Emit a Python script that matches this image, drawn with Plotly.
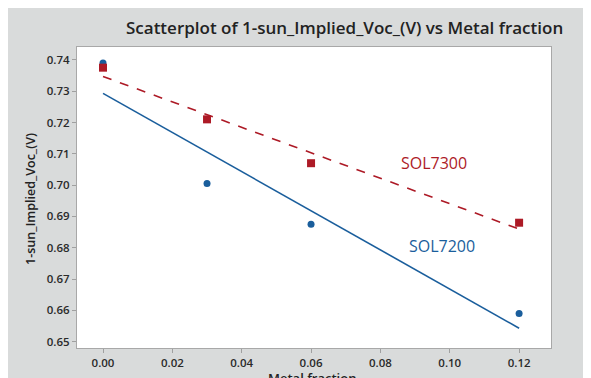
import numpy as np
import plotly.graph_objects as go

metal_fraction = [0.0, 0.03, 0.06, 0.12]
sol7200_voc = [0.739, 0.7005, 0.6875, 0.659]
sol7300_voc = [0.7375, 0.721, 0.707, 0.688]
x_ticks = [0.00, 0.02, 0.04, 0.06, 0.08, 0.10, 0.12]
y_ticks = [0.65, 0.66, 0.67, 0.68, 0.69, 0.70, 0.71, 0.72, 0.73, 0.74]

BLUE = "#1a5e9c"
RED = "#ad1a26"
GRAY_BG = "#d9dbdb"

def fit(x, y):
    m, b = np.polyfit(x, y, 1)
    xs = [min(x), max(x)]
    return xs, [m * v + b for v in xs]

fig = go.Figure()
fx, fy = fit(metal_fraction, sol7200_voc)
fig.add_trace(go.Scatter(x=fx, y=fy, mode="lines", line=dict(color=BLUE, width=1.6), showlegend=False))
fx2, fy2 = fit(metal_fraction, sol7300_voc)
fig.add_trace(go.Scatter(x=fx2, y=fy2, mode="lines", line=dict(color=RED, width=1.6, dash="dash"), showlegend=False))
fig.add_trace(go.Scatter(x=metal_fraction, y=sol7200_voc, mode="markers",
                         marker=dict(symbol="circle", size=7, color=BLUE), showlegend=False))
fig.add_trace(go.Scatter(x=metal_fraction, y=sol7300_voc, mode="markers",
                         marker=dict(symbol="square", size=8, color=RED), showlegend=False))

tickfont = dict(family="Open Sans", size=11.5, color="#2a2a2a", weight=600)
fig.update_xaxes(range=[-0.0075, 0.1292], tickvals=x_ticks, ticktext=[f"{v:.2f}" for v in x_ticks],
                 showgrid=False, zeroline=False, showline=True, linecolor="#a8a8a8", linewidth=1,
                 mirror=True, ticks="outside", ticklen=4, tickcolor="#a0a0a0", tickfont=tickfont,
                 automargin=False)
fig.update_yaxes(range=[0.648, 0.7441], tickvals=y_ticks, ticktext=[f"{v:.2f}" for v in y_ticks],
                 showgrid=False, zeroline=False, showline=True, linecolor="#a8a8a8", linewidth=1,
                 mirror=True, ticks="outside", ticklen=4, tickcolor="#a0a0a0", tickfont=tickfont,
                 automargin=False)

# page has an 8px body margin; figure coordinates = screen - 8
OFF = 8
FW, FH = 591 - OFF, 378 - OFF
L, T, W, H = 77 - OFF, 47 - OFF, 474, 301
def px(xs):
    return (xs - OFF - L) / W
def py(ys):
    return (T + H - (ys - OFF)) / H

fig.update_layout(
    width=FW, height=FH,
    margin=dict(l=L, r=FW - L - W, t=T, b=FH - T - H, autoexpand=False),
    paper_bgcolor=GRAY_BG, plot_bgcolor="white",
    annotations=[
        dict(text="Scatterplot of 1-sun_Implied_Voc_(V) vs Metal fraction", xref="paper", yref="paper",
             x=px(344.5), y=py(27), xanchor="center", yanchor="middle", showarrow=False,
             font=dict(family="Open Sans", size=17, color="#222222", weight=600)),
        dict(text="1-sun_Implied_Voc_(V)", xref="paper", yref="paper", textangle=-90,
             x=px(30), y=py(199), xanchor="center", yanchor="middle", showarrow=False,
             font=dict(family="Open Sans", size=12.5, color="#222222", weight=600)),
        dict(text="Metal fraction", xref="paper", yref="paper",
             x=px(312), y=py(378), xanchor="center", yanchor="middle", showarrow=False,
             font=dict(family="Open Sans", size=13, color="#222222", weight=600)),
        dict(text="SOL7300", xref="paper", yref="paper",
             x=px(434), y=py(163), xanchor="center", yanchor="middle", showarrow=False,
             font=dict(family="Open Sans", size=16, color=RED)),
        dict(text="SOL7200", xref="paper", yref="paper",
             x=px(442), y=py(246), xanchor="center", yanchor="middle", showarrow=False,
             font=dict(family="Open Sans", size=16, color=BLUE)),
    ],
)

fig.write_html("out.html")
